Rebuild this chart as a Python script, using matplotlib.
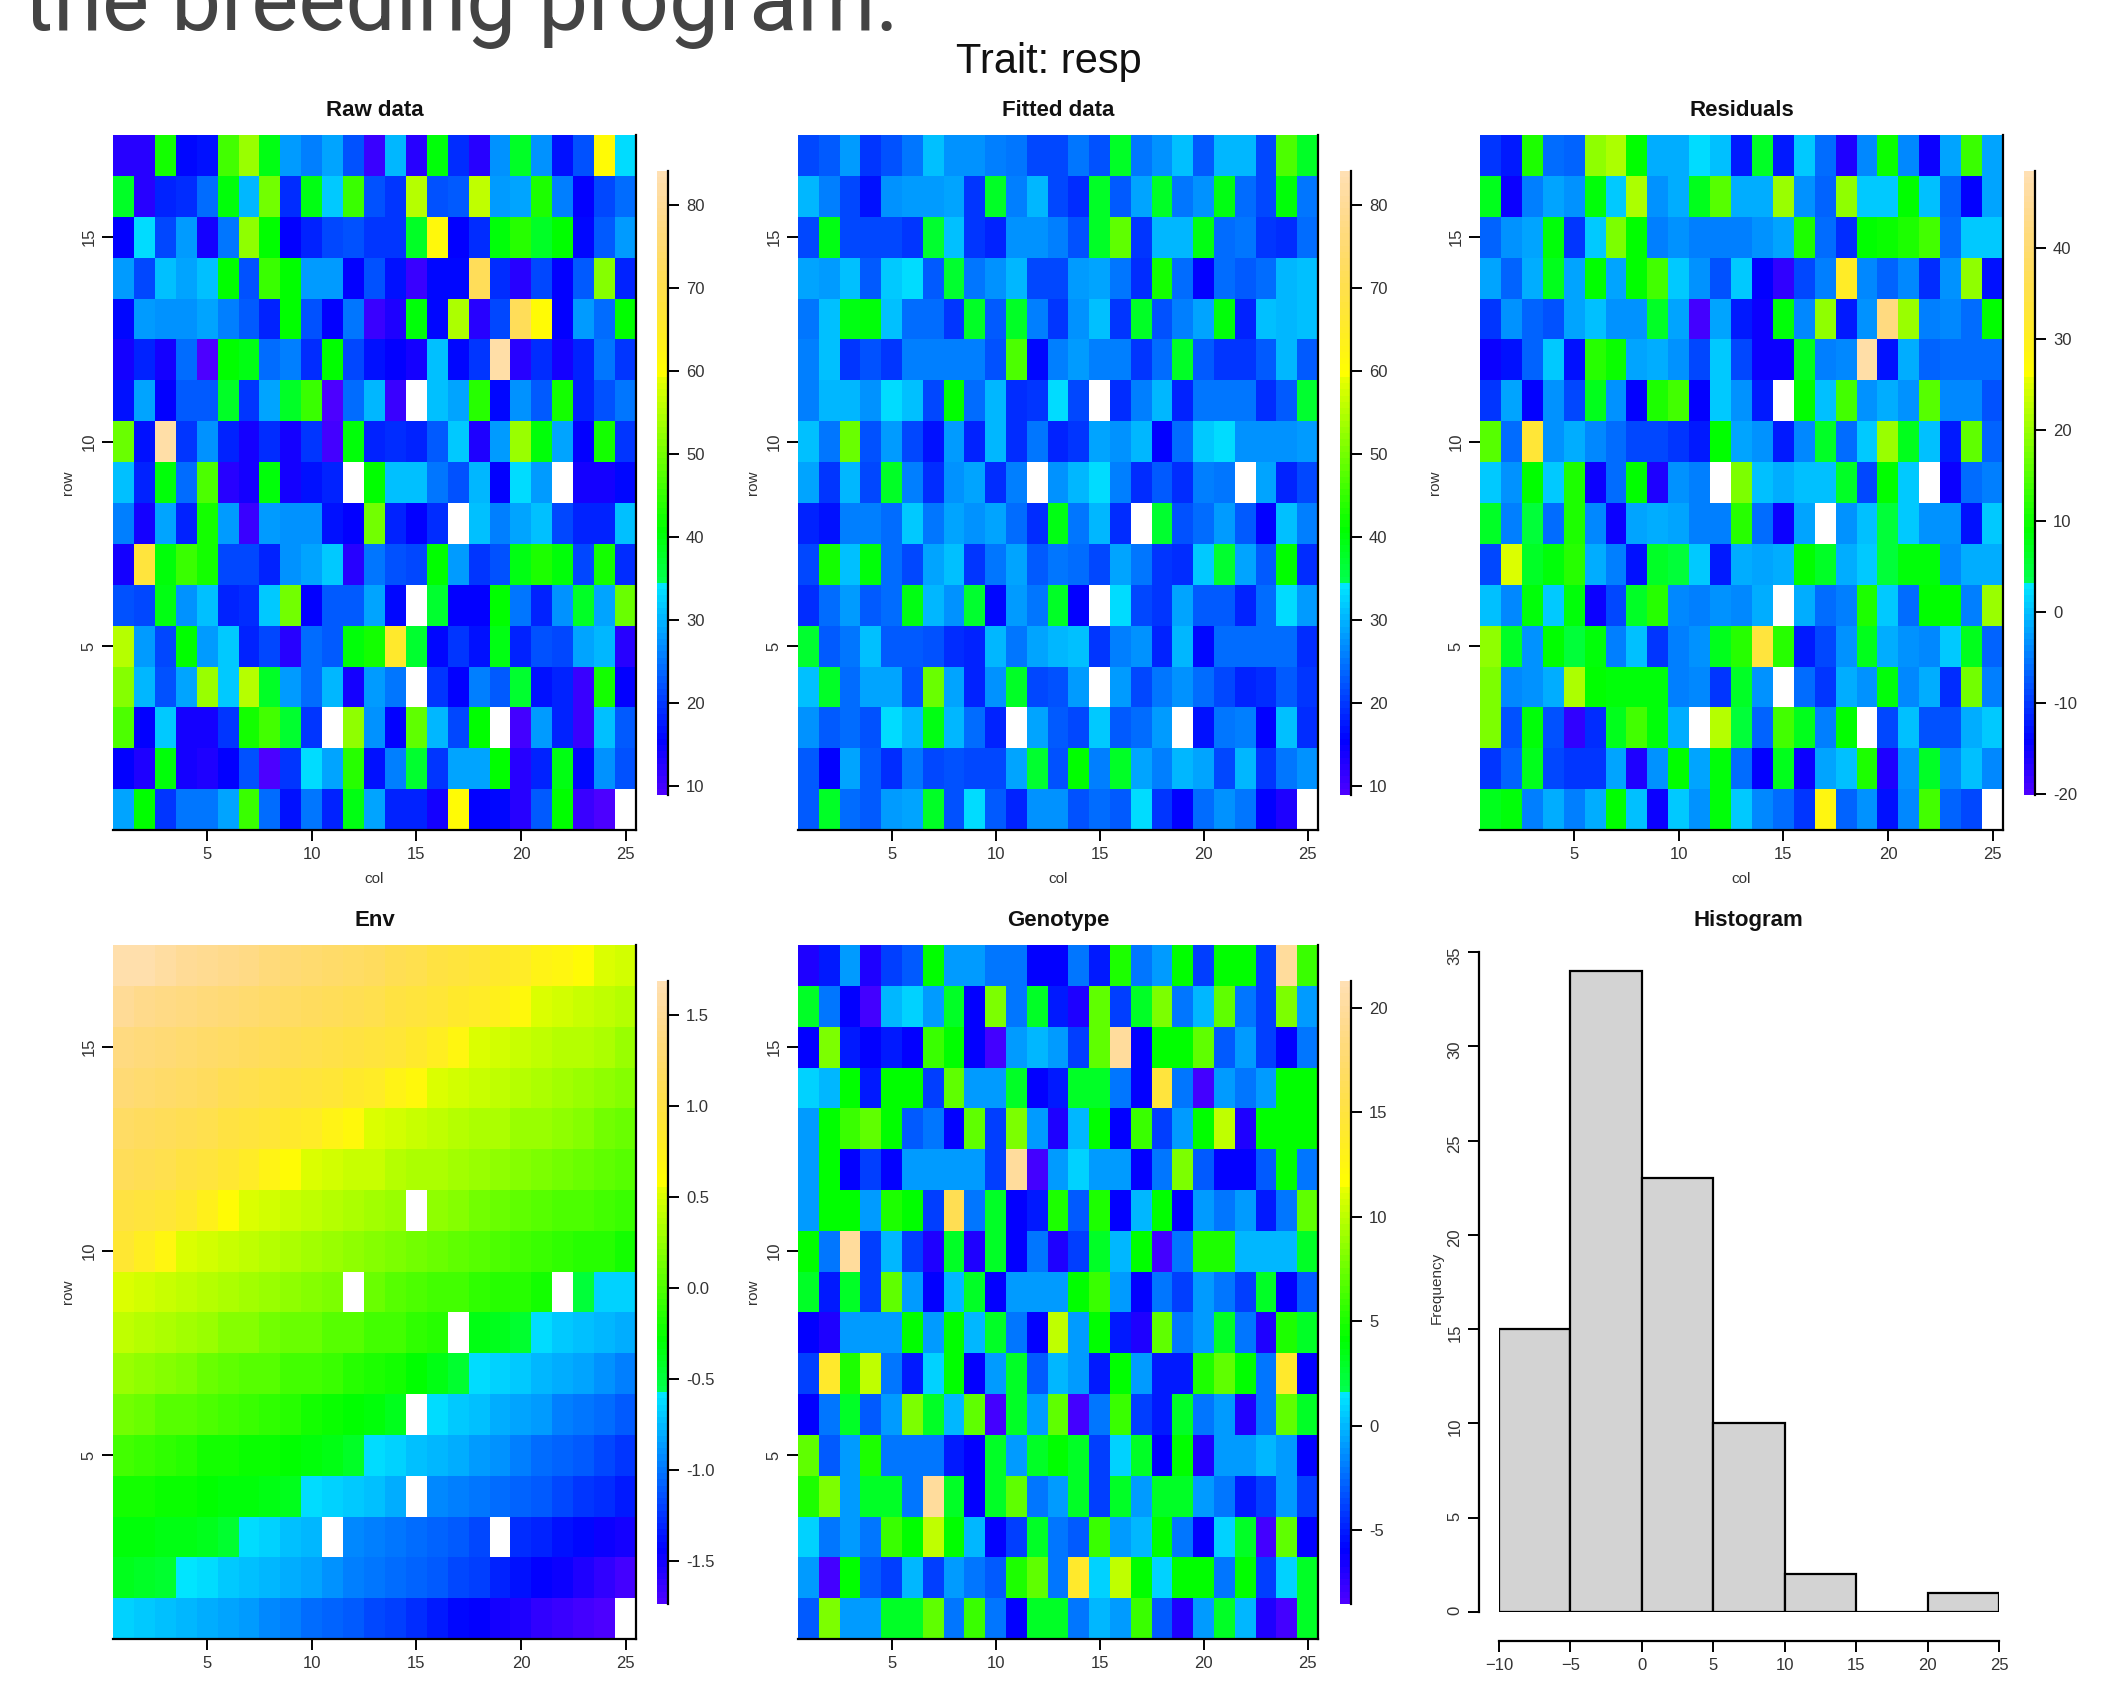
import numpy as np
import matplotlib
matplotlib.use("Agg")
import matplotlib.pyplot as plt
from matplotlib.colors import ListedColormap, Normalize, hsv_to_rgb

nan = np.nan

# all grids are listed from row 17 (top) down to row 1, columns 1 to 25
raw_data = [
    [12, 12, 42, 16, 17, 46, 53, 39, 28, 26, 29, 22, 11, 30, 12, 40, 19, 12, 27, 38, 27, 17, 22, 60, 33],
    [38, 12, 18, 19, 24, 40, 30, 50, 19, 39, 32, 45, 22, 20, 55, 22, 23, 56, 28, 29, 43, 26, 15, 21, 24],
    [15, 33, 21, 28, 14, 25, 52, 41, 15, 18, 21, 22, 20, 20, 38, 61, 15, 19, 40, 44, 38, 41, 16, 23, 28],
    [28, 21, 31, 29, 31, 41, 22, 45, 41, 28, 28, 15, 22, 17, 11, 16, 16, 72, 19, 12, 21, 15, 23, 51, 18],
    [16, 28, 27, 27, 29, 26, 23, 18, 41, 22, 15, 25, 11, 13, 40, 16, 54, 12, 21, 72, 60, 15, 28, 24, 41],
    [14, 18, 14, 24, 9, 41, 39, 24, 26, 19, 41, 21, 17, 15, 14, 31, 16, 20, 82, 12, 19, 14, 18, 25, 20],
    [17, 29, 15, 23, 23, 38, 20, 29, 38, 45, 9, 24, 30, 11, nan, 31, 29, 44, 16, 27, 23, 42, 18, 22, 25],
    [49, 17, 82, 20, 27, 18, 14, 19, 14, 20, 10, 40, 18, 19, 18, 23, 32, 13, 28, 53, 40, 29, 15, 42, 20],
    [31, 18, 40, 24, 47, 12, 14, 40, 14, 17, 18, nan, 41, 31, 31, 25, 22, 30, 15, 33, 28, nan, 14, 14, 16],
    [26, 14, 29, 18, 42, 28, 11, 28, 27, 27, 17, 15, 50, 18, 15, 19, nan, 31, 26, 29, 31, 21, 18, 18, 31],
    [14, 68, 40, 45, 42, 21, 21, 18, 27, 29, 32, 12, 25, 22, 21, 41, 28, 20, 22, 39, 43, 40, 21, 42, 19],
    [22, 21, 39, 27, 31, 18, 19, 32, 50, 15, 23, 23, 29, 16, nan, 37, 15, 15, 41, 25, 18, 27, 38, 29, 49],
    [55, 28, 21, 41, 28, 32, 18, 21, 12, 24, 23, 40, 42, 66, 37, 16, 20, 17, 39, 18, 22, 21, 29, 30, 12],
    [51, 30, 22, 29, 53, 32, 55, 38, 28, 24, 30, 14, 28, 25, nan, 20, 15, 26, 23, 37, 17, 18, 11, 42, 15],
    [47, 15, 32, 14, 14, 20, 42, 46, 37, 20, nan, 52, 27, 15, 48, 30, 21, 41, nan, 10, 28, 18, 11, 31, 23],
    [15, 13, 40, 14, 13, 15, 22, 9, 20, 33, 29, 44, 17, 26, 37, 20, 29, 29, 41, 12, 18, 39, 16, 27, 22],
    [29, 41, 20, 25, 25, 29, 45, 24, 17, 25, 18, 39, 29, 18, 18, 14, 60, 15, 16, 12, 23, 41, 11, 9, nan],
]

fitted_data = [
    [21, 23, 28, 20, 22, 25, 31, 27, 27, 26, 25, 21, 21, 25, 22, 38, 25, 27, 31, 23, 30, 30, 21, 47, 38],
    [30, 26, 21, 17, 27, 28, 28, 29, 20, 38, 26, 30, 21, 19, 38, 23, 29, 38, 25, 27, 39, 24, 21, 40, 25],
    [21, 39, 21, 21, 21, 20, 37, 31, 20, 18, 27, 27, 26, 22, 38, 48, 20, 30, 30, 39, 24, 25, 20, 19, 24],
    [29, 28, 31, 23, 32, 33, 23, 37, 25, 27, 30, 21, 21, 28, 29, 25, 19, 42, 24, 15, 24, 23, 24, 30, 31],
    [25, 31, 39, 40, 31, 24, 24, 20, 38, 23, 38, 26, 20, 27, 31, 20, 38, 22, 26, 29, 40, 18, 31, 30, 31],
    [26, 31, 20, 22, 20, 26, 26, 26, 26, 22, 47, 16, 26, 28, 26, 26, 20, 24, 38, 23, 20, 20, 23, 30, 23],
    [26, 30, 30, 27, 33, 31, 21, 41, 24, 30, 19, 20, 33, 21, nan, 19, 26, 30, 18, 25, 25, 25, 19, 23, 37],
    [31, 25, 49, 22, 28, 21, 17, 28, 18, 30, 19, 25, 18, 20, 29, 27, 30, 15, 24, 32, 33, 27, 27, 27, 28],
    [29, 20, 30, 21, 38, 26, 19, 27, 29, 19, 26, nan, 27, 30, 33, 26, 19, 23, 19, 26, 25, nan, 29, 18, 21],
    [18, 17, 26, 26, 24, 32, 25, 29, 27, 29, 24, 19, 39, 25, 30, 19, nan, 37, 22, 24, 28, 23, 15, 31, 26],
    [21, 42, 31, 40, 24, 21, 29, 31, 20, 25, 29, 23, 25, 24, 21, 29, 25, 20, 19, 32, 37, 29, 23, 41, 19],
    [19, 24, 28, 23, 24, 39, 30, 27, 37, 16, 28, 25, 38, 15, nan, 33, 21, 20, 29, 23, 23, 18, 24, 33, 28],
    [37, 23, 25, 31, 23, 23, 22, 19, 18, 30, 25, 29, 30, 31, 20, 26, 27, 18, 30, 16, 24, 24, 24, 24, 19],
    [31, 38, 24, 29, 29, 22, 49, 29, 18, 27, 38, 21, 22, 28, nan, 28, 21, 25, 27, 24, 21, 18, 19, 23, 20],
    [27, 23, 24, 22, 33, 30, 39, 30, 24, 18, nan, 29, 23, 21, 32, 23, 24, 28, nan, 17, 25, 26, 15, 31, 19],
    [23, 15, 29, 23, 19, 25, 21, 22, 21, 21, 29, 37, 22, 41, 26, 38, 29, 26, 30, 29, 21, 30, 20, 25, 27],
    [23, 38, 24, 23, 28, 29, 38, 22, 33, 23, 18, 27, 27, 22, 24, 23, 33, 20, 15, 24, 27, 25, 15, 13, nan],
]

residuals = [
    [-10, -12, 11, -6, -7, 19, 21, 9, -1, -1, 2, 0, -12, 6, -12, 1, -6, -16, -4, 10, -4, -15, -2, 13, -2],
    [7, -15, -5, -2, -3, 8, 1, 21, -3, -1, 7, 15, -1, -1, 20, -3, -7, 19, 1, 1, 9, 0, -7, -14, -2],
    [-7, -3, -2, 8, -10, 1, 18, 9, -5, -3, -5, -5, -5, -3, -2, 11, -6, -11, 9, 10, 11, 14, -6, 1, 1],
    [-2, -7, -1, 7, -2, 9, -2, 9, 14, 1, -3, -8, 1, -14, -18, -9, -5, 31, -4, -7, -4, -11, -3, 19, -13],
    [-10, -3, -7, -8, -2, 0, -3, -3, 6, -2, -19, -2, -12, -15, 8, -4, 19, -12, -3, 42, 20, -5, -4, -6, 9],
    [-15, -13, -7, 1, -13, 12, 10, -2, -1, -3, -9, 1, -9, -15, -15, 7, -5, -4, 47, -13, -1, -7, -6, -6, -6],
    [-10, -2, -14, -3, -9, 7, -3, -14, 11, 14, -14, 1, -3, -12, nan, 9, 0, 14, -3, -1, -3, 15, -4, -4, -8],
    [15, -6, 33, -3, -1, -4, -6, -9, -9, -10, -12, 9, -2, -3, -12, -4, 6, -6, 1, 20, 7, 0, -12, 16, -7],
    [1, -3, 9, 1, 11, -15, -6, 9, -16, -3, -5, nan, 18, 0, -1, 0, 0, 6, -9, 9, 1, nan, -15, -6, -5],
    [6, -5, 5, -6, 11, -4, -15, -2, -1, -2, -5, -5, 12, -6, -15, -2, nan, -3, 0, 5, 1, -3, -3, -13, 1],
    [-9, 25, 6, 8, 12, -1, -5, -13, 6, 5, 1, -12, -1, -2, -1, 9, 6, -1, 1, 5, 8, 8, -4, -1, -1],
    [0, -4, 8, 1, 8, -15, -9, 6, 12, -4, -5, -3, -4, -1, nan, -1, -6, -5, 11, 1, -6, 9, 9, -5, 20],
    [19, 6, -3, 9, 5, 8, -5, 0, -10, -5, -3, 7, 12, 34, 12, -12, -9, -3, 7, -1, -3, -4, 1, 7, -7],
    [18, -4, -3, -1, 21, 9, 8, 8, 8, -5, -4, -10, 6, -3, nan, -6, -10, -1, -3, 8, -4, -1, -11, 17, -5],
    [18, -8, 8, -8, -18, -11, 7, 14, 8, -1, nan, 22, 5, -7, 14, 7, -5, 9, nan, -9, 0, -8, -8, -1, 1],
    [-10, -7, 7, -9, -10, -10, -2, -16, -3, 9, -2, 8, -6, -14, 7, -15, -2, 0, 11, -16, -3, 6, -4, 0, -4],
    [7, 8, -5, -1, -5, -1, 9, 0, -15, 1, -3, 8, 1, -4, -6, -10, 28, -7, -3, -13, -4, 14, -7, -9, nan],
]

env = [
    [1.65, 1.62, 1.55, 1.50, 1.45, 1.42, 1.38, 1.34, 1.30, 1.27, 1.22, 1.18, 1.14, 1.10, 1.05, 1.00, 0.95, 0.90, 0.85, 0.80, 0.72, 0.68, 0.62, 0.50, 0.46],
    [1.48, 1.44, 1.40, 1.36, 1.32, 1.28, 1.25, 1.22, 1.18, 1.15, 1.11, 1.08, 1.05, 1.00, 0.96, 0.92, 0.86, 0.80, 0.75, 0.64, 0.52, 0.48, 0.44, 0.40, 0.36],
    [1.36, 1.33, 1.30, 1.26, 1.22, 1.18, 1.15, 1.12, 1.08, 1.05, 1.02, 0.98, 0.94, 0.90, 0.85, 0.78, 0.68, 0.52, 0.48, 0.45, 0.41, 0.38, 0.36, 0.32, 0.28],
    [1.28, 1.25, 1.22, 1.18, 1.14, 1.10, 1.06, 1.02, 0.98, 0.94, 0.90, 0.85, 0.80, 0.72, 0.64, 0.50, 0.46, 0.42, 0.39, 0.36, 0.33, 0.30, 0.27, 0.22, 0.18],
    [1.20, 1.17, 1.13, 1.09, 1.05, 1.00, 0.96, 0.92, 0.86, 0.80, 0.72, 0.64, 0.52, 0.48, 0.44, 0.41, 0.38, 0.35, 0.32, 0.28, 0.25, 0.22, 0.18, 0.14, 0.10],
    [1.12, 1.08, 1.04, 1.00, 0.95, 0.88, 0.82, 0.72, 0.62, 0.52, 0.48, 0.45, 0.42, 0.38, 0.35, 0.32, 0.29, 0.26, 0.23, 0.19, 0.16, 0.12, 0.08, 0.05, 0.01],
    [1.00, 0.96, 0.92, 0.84, 0.75, 0.62, 0.52, 0.48, 0.44, 0.40, 0.37, 0.34, 0.30, 0.27, nan, 0.22, 0.18, 0.14, 0.11, 0.07, 0.03, 0.00, -0.02, -0.06, -0.08],
    [0.88, 0.78, 0.66, 0.52, 0.48, 0.44, 0.40, 0.37, 0.33, 0.30, 0.26, 0.23, 0.20, 0.17, 0.13, 0.10, 0.06, 0.03, -0.02, -0.05, -0.08, -0.10, -0.13, -0.16, -0.20],
    [0.52, 0.48, 0.44, 0.40, 0.36, 0.32, 0.29, 0.26, 0.22, 0.18, 0.15, nan, 0.08, 0.04, 0.00, -0.03, -0.06, -0.10, -0.13, -0.16, -0.20, nan, -0.48, -0.65, -0.65],
    [0.40, 0.36, 0.33, 0.29, 0.25, 0.21, 0.18, 0.14, 0.11, 0.08, 0.04, 0.01, -0.03, -0.06, -0.10, -0.13, nan, -0.35, -0.40, -0.45, -0.62, -0.68, -0.72, -0.76, -0.80],
    [0.25, 0.22, 0.18, 0.15, 0.11, 0.07, 0.04, 0.01, -0.03, -0.06, -0.09, -0.13, -0.17, -0.22, -0.28, -0.35, -0.45, -0.62, -0.66, -0.70, -0.76, -0.80, -0.84, -0.90, -0.96],
    [0.12, 0.08, 0.04, 0.02, -0.02, -0.05, -0.08, -0.12, -0.16, -0.20, -0.24, -0.28, -0.33, -0.40, nan, -0.62, -0.68, -0.73, -0.78, -0.82, -0.88, -0.95, -1.00, -1.05, -1.10],
    [-0.05, -0.08, -0.12, -0.16, -0.20, -0.22, -0.24, -0.26, -0.28, -0.32, -0.36, -0.42, -0.62, -0.66, -0.72, -0.76, -0.80, -0.85, -0.90, -0.96, -1.02, -1.06, -1.12, -1.18, -1.24],
    [-0.20, -0.22, -0.24, -0.26, -0.28, -0.30, -0.32, -0.35, -0.40, -0.62, -0.66, -0.70, -0.74, -0.78, nan, -0.92, -0.96, -1.00, -1.04, -1.08, -1.12, -1.18, -1.24, -1.28, -1.34],
    [-0.30, -0.32, -0.34, -0.36, -0.38, -0.45, -0.62, -0.66, -0.72, -0.76, nan, -0.92, -0.96, -1.00, -1.04, -1.08, -1.12, -1.16, nan, -1.26, -1.32, -1.38, -1.42, -1.48, -1.52],
    [-0.38, -0.42, -0.46, -0.60, -0.63, -0.68, -0.72, -0.76, -0.80, -0.84, -0.90, -0.95, -1.00, -1.04, -1.08, -1.12, -1.18, -1.22, -1.30, -1.38, -1.44, -1.48, -1.55, -1.62, -1.68],
    [-0.65, -0.68, -0.72, -0.76, -0.80, -0.84, -0.88, -0.94, -0.98, -1.03, -1.08, -1.12, -1.18, -1.22, -1.28, -1.34, -1.40, -1.46, -1.50, -1.56, -1.62, -1.65, -1.70, -1.73, nan],
]

genotype = [
    [-7, -5, -1, -7, -4, -3, 4, -1, -1, -2, -2, -6, -6, -2, -5, 5, -2, -1, 4, -4, 4, 4, -4, 20, 6],
    [3, -2, -6, -8, 0, 1, -1, 3, -6, 8, -2, 3, -5, -7, 7, -4, 3, 8, -2, 0, 7, -2, -4, 8, -1],
    [-6, 8, -5, -6, -5, -6, 6, 4, -6, -8, -1, 0, -1, -4, 7, 20, -6, 4, 4, 7, -3, -1, -4, -6, -2],
    [1, 0, 4, -5, 4, 4, -4, 7, -1, -1, 3, -6, -5, 3, 3, -2, -6, 15, -2, -8, -1, -2, -1, 4, 4],
    [-1, 4, 6, 7, 4, -3, -2, -6, 7, -4, 8, -1, -7, 0, 4, -6, 6, -4, -1, 4, 10, -7, 4, 4, 4],
    [-1, 4, -6, -4, -6, -1, -1, -1, -1, -4, 20, -8, -1, 1, -1, -1, -6, -2, 8, -3, -6, -6, -3, 4, -2],
    [-1, 4, 4, -1, 5, 4, -4, 16, -2, 3, -6, -5, 5, -3, 5, -6, 0, 4, -6, -1, -2, -1, -5, -2, 7],
    [4, -2, 20, -4, 0, -4, -7, 3, -7, 3, -6, -2, -7, -4, 3, 0, 4, -8, -2, 5, 5, 0, 0, 0, 3],
    [3, -5, 3, -4, 7, -1, -6, 0, 3, -6, -1, -1, -1, 4, 6, -1, -6, -2, -4, -1, -2, -4, 3, -6, -3],
    [-6, -7, -1, -1, -1, 4, -1, 4, 0, 3, -2, -6, 10, -1, 4, -5, -7, 7, -2, -1, 3, -2, -7, 5, 3],
    [-4, 14, 5, 10, -2, -5, 1, 4, -6, -1, 3, -3, 0, -1, -5, 4, -1, -5, -5, 5, 7, 4, -2, 14, -6],
    [-6, -2, 3, -3, -1, 8, 3, 0, 7, -8, 3, -1, 7, -8, -2, 6, -4, -5, 3, -2, -1, -7, -2, 7, 3],
    [7, -3, -1, 5, -2, -2, -2, -5, -6, 3, -1, 3, 4, 3, -4, 1, 3, -6, 4, -7, -1, -1, 0, -1, -6],
    [5, 8, -1, 3, 3, -2, 20, 3, -6, 3, 7, -2, -1, 3, -4, 3, -1, 3, 3, -1, -2, -5, -4, -1, -4],
    [1, -2, -1, -2, 6, 4, 10, 4, 0, -6, -4, 3, -2, -3, 6, -1, 0, 4, -2, -6, 1, 3, -8, 7, -6],
    [-1, -8, 4, -3, -4, 0, -4, -1, -2, -3, 5, 7, -2, 14, 1, 10, 4, 1, 4, 4, -2, 4, -4, 1, 3],
    [-3, 8, -1, -1, 3, 3, 7, -2, 6, -2, -6, 3, 3, -2, 0, -1, 6, -3, -7, -1, 3, 0, -7, -8, 3],
]

hist_edges = [-10, -5, 0, 5, 10, 15, 20, 25]
hist_counts = [15, 34, 23, 10, 2, 0, 1]

W, H = 2114, 1682
TICK_GREY = "#333333"


def topo_colors(n=100):
    # same recipe as R's topo.colors
    j = n // 3
    i = n - 2 * j
    blues = np.c_[np.linspace(43 / 60, 31 / 60, i), np.ones(i), np.ones(i)]
    greens = np.c_[np.linspace(23 / 60, 11 / 60, j), np.ones(j), np.ones(j)]
    yellows = np.c_[np.linspace(10 / 60, 6 / 60, j), np.linspace(1, 0.3, j), np.ones(j)]
    return ListedColormap(hsv_to_rgb(np.vstack([blues, greens, yellows])))


cmap = topo_colors()
cmap.set_bad("white")

plt.rcParams["font.family"] = ["Liberation Sans", "DejaVu Sans"]
fig = plt.figure(figsize=(W / 100, H / 100), dpi=100)


def px_axes(x0, y0, x1, y1):
    return fig.add_axes([x0 / W, 1 - y1 / H, (x1 - x0) / W, (y1 - y0) / H])


def heat_panel(grid, title, box, bar_x, vmin, vmax, cticks, clabels, xlabel=True):
    x0, y0, x1, y1 = box
    ax = px_axes(x0, y0, x1, y1)
    im = ax.imshow(np.array(grid, dtype=float)[::-1], origin="lower", aspect="auto",
                   extent=(0.5, 25.5, 0.5, 17.5), cmap=cmap,
                   norm=Normalize(vmin, vmax), interpolation="nearest")
    ax.set_xticks([5, 10, 15, 20, 25])
    ax.set_yticks([5, 10, 15])
    ax.tick_params(axis="both", length=8, width=1.4, labelsize=12, pad=4, labelcolor=TICK_GREY)
    ax.tick_params(axis="y", labelrotation=90)
    for lab in ax.get_yticklabels():
        lab.set_va("center")
    for side in ["left", "top"]:
        ax.spines[side].set_visible(False)
    for side in ["right", "bottom"]:
        ax.spines[side].set_linewidth(1.6)
    fig.text((x0 + x1) / 2 / W, 1 - (y0 - 25) / H, title, fontsize=16, fontweight="bold",
             ha="center", va="center", color="#111111")
    if xlabel:
        fig.text((x0 + x1) / 2 / W, 1 - (y1 + 49) / H, "col", fontsize=11, ha="center",
                 va="center", color=TICK_GREY)
    fig.text((x0 - 45) / W, 1 - (y0 + y1) / 2 / H, "row", fontsize=11, rotation=90,
             ha="center", va="center", color=TICK_GREY)

    cax = px_axes(bar_x, y0 + 36, bar_x + 11, y1 - 35)
    cb = fig.colorbar(im, cax=cax)
    cb.outline.set_visible(False)
    cb.set_ticks(cticks, labels=clabels)
    cb.ax.tick_params(length=8, width=1.4, labelsize=12, pad=5, labelcolor=TICK_GREY)
    cb.ax.spines["right"].set_visible(True)
    cb.ax.spines["right"].set_linewidth(1.6)
    return ax


TOP = (135, 830)
BOTTOM = (945, 1639)

heat_panel(raw_data, "Raw data", (113, TOP[0], 636, TOP[1]), 657, 8.86, 84.06,
           [10, 20, 30, 40, 50, 60, 70, 80], ["10", "20", "30", "40", "50", "60", "70", "80"])
heat_panel(fitted_data, "Fitted data", (798, TOP[0], 1318, TOP[1]), 1340, 8.86, 84.06,
           [10, 20, 30, 40, 50, 60, 70, 80], ["10", "20", "30", "40", "50", "60", "70", "80"])
heat_panel(residuals, "Residuals", (1480, TOP[0], 2003, TOP[1]), 2024, -20.1, 48.4,
           [-20, -10, 0, 10, 20, 30, 40], ["-20", "-10", "0", "10", "20", "30", "40"])
heat_panel(env, "Env", (113, BOTTOM[0], 636, BOTTOM[1]), 657, -1.737, 1.685,
           [-1.5, -1, -0.5, 0, 0.5, 1, 1.5], ["-1.5", "-1.0", "-0.5", "0.0", "0.5", "1.0", "1.5"],
           xlabel=False)
heat_panel(genotype, "Genotype", (798, BOTTOM[0], 1318, BOTTOM[1]), 1340, -8.54, 21.29,
           [-5, 0, 5, 10, 15, 20], ["-5", "0", "5", "10", "15", "20"], xlabel=False)

# histogram
ax = px_axes(1499, 952, 1999, 1612)
edges = np.array(hist_edges)
ax.bar(edges[:-1], hist_counts, width=np.diff(edges), align="edge", facecolor="#D3D3D3",
       edgecolor="black", linewidth=1.6)
ax.set_xlim(-10, 25)
ax.set_ylim(0, 35)
ax.set_xticks(hist_edges)
ax.set_yticks([0, 5, 10, 15, 20, 25, 30, 35])
ax.tick_params(axis="both", length=8, width=1.4, labelsize=12, pad=4, labelcolor=TICK_GREY)
ax.tick_params(axis="y", labelrotation=90)
for lab in ax.get_yticklabels():
    lab.set_va("center")
for side in ["right", "top"]:
    ax.spines[side].set_visible(False)
ax.spines["left"].set_position(("outward", 14.4))
ax.spines["bottom"].set_position(("outward", 21))
for side in ["left", "bottom"]:
    ax.spines[side].set_linewidth(1.6)
ax.patch.set_alpha(0)
fig.text(1437 / W, 1 - 1288 / H, "Frequency", fontsize=11, rotation=90, ha="center",
         va="center", color=TICK_GREY)
fig.text(1748 / W, 1 - 920 / H, "Histogram", fontsize=16, fontweight="bold", ha="center",
         va="center", color="#111111")

fig.text(1049 / W, 1 - 62 / H, "Trait: resp", fontsize=30, ha="center", va="center", color="#111111")
fig.text(24 / W, 1 - 30 / H, "the breeding program.", fontsize=64, family=["Roboto", "DejaVu Sans"],
         ha="left", va="baseline", color="#444444")

fig.savefig("out.png", dpi=100)
